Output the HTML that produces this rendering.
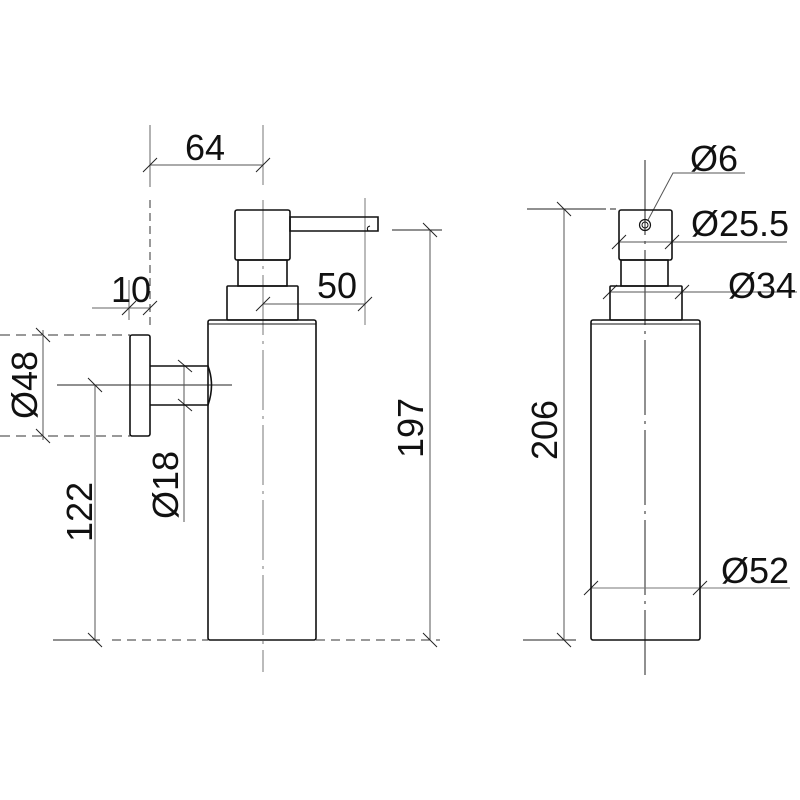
<!DOCTYPE html>
<html><head><meta charset="utf-8"><style>
html,body{margin:0;padding:0;background:#fff;}
svg{display:block;}
text{font-family:"Liberation Sans",sans-serif;font-size:36px;fill:#111;}
</style></head><body>
<svg width="800" height="800" viewBox="0 0 800 800" xmlns="http://www.w3.org/2000/svg">
<g fill="none" stroke-linecap="butt">
<!-- ===== LEFT VIEW ===== -->
<!-- centerlines -->
<line x1="263" y1="125" x2="263" y2="185" stroke="#777" stroke-width="1"/>
<line x1="263" y1="200" x2="263" y2="672" stroke="#777" stroke-width="1" stroke-dasharray="60,6,3,6"/>
<line x1="57" y1="385" x2="232" y2="385" stroke="#222" stroke-width="1"/>
<!-- extension / dim lines -->
<line x1="150" y1="125" x2="150" y2="187" stroke="#666" stroke-width="1"/>
<line x1="150" y1="200" x2="150" y2="330" stroke="#333" stroke-width="1" stroke-dasharray="8,5"/>
<line x1="150" y1="165" x2="263" y2="165" stroke="#555" stroke-width="1"/>
<line x1="143" y1="172" x2="157" y2="158" stroke="#222"/>
<line x1="256" y1="172" x2="270" y2="158" stroke="#222"/>
<!-- 10 -->
<line x1="129" y1="280" x2="129" y2="320" stroke="#666"/>
<line x1="92" y1="308" x2="150" y2="308" stroke="#666"/>
<line x1="122" y1="315" x2="136" y2="301" stroke="#222"/>
<line x1="143" y1="315" x2="157" y2="301" stroke="#222"/>
<!-- 50 -->
<line x1="365" y1="198" x2="365" y2="325" stroke="#777"/>
<line x1="263" y1="304" x2="365" y2="304" stroke="#555"/>
<line x1="256" y1="311" x2="270" y2="297" stroke="#222"/>
<line x1="358" y1="311" x2="372" y2="297" stroke="#222"/>
<!-- Ø48 -->
<line x1="0" y1="335" x2="130" y2="335" stroke="#333" stroke-dasharray="10,6"/>
<line x1="0" y1="436" x2="130" y2="436" stroke="#333" stroke-dasharray="10,6"/>
<line x1="43" y1="330" x2="43" y2="440" stroke="#555"/>
<line x1="36" y1="328" x2="50" y2="342" stroke="#222"/>
<line x1="36" y1="429" x2="50" y2="443" stroke="#222"/>
<!-- 122 -->
<line x1="95" y1="385" x2="95" y2="640" stroke="#555"/>
<line x1="88" y1="378" x2="102" y2="392" stroke="#222"/>
<line x1="88" y1="633" x2="102" y2="647" stroke="#222"/>
<line x1="53" y1="640" x2="100" y2="640" stroke="#222"/>
<line x1="112" y1="640" x2="208" y2="640" stroke="#333" stroke-dasharray="9,6"/>
<line x1="316" y1="640" x2="440" y2="640" stroke="#333" stroke-dasharray="9,6"/>
<!-- Ø18 -->
<line x1="184" y1="366" x2="184" y2="522" stroke="#555"/>
<line x1="178" y1="360" x2="192" y2="372" stroke="#222"/>
<line x1="178" y1="399" x2="192" y2="411" stroke="#222"/>
<!-- 197 -->
<line x1="392" y1="230" x2="442" y2="230" stroke="#222"/>
<line x1="430" y1="230" x2="430" y2="640" stroke="#555"/>
<line x1="423" y1="223" x2="437" y2="237" stroke="#222"/>
<line x1="423" y1="633" x2="437" y2="647" stroke="#222"/>
<!-- parts -->
<g stroke="#111" stroke-width="1.6">
<rect x="130" y="335" width="20" height="101" rx="2"/>
<path d="M150 366 H208 Q215 385 208 405 H150"/>
<rect x="208" y="320" width="108" height="320" rx="2"/>
<line x1="208" y1="324" x2="316" y2="324" stroke-width="1"/>
<rect x="227" y="286" width="71" height="34" rx="1"/>
<rect x="238" y="260" width="49" height="26"/>
<rect x="235" y="210" width="55" height="50" rx="2"/>
<path d="M290 217 H378 V231 H290 Z"/>
<path d="M368 231 Q366 227 370 226" stroke-width="1"/>
</g>
<!-- ===== RIGHT VIEW ===== -->
<line x1="645" y1="160" x2="645" y2="675" stroke="#222" stroke-width="1" stroke-dasharray="75,6,3,6"/>
<line x1="527" y1="209" x2="600" y2="209" stroke="#222"/>
<line x1="600" y1="209" x2="619" y2="209" stroke="#222" stroke-dasharray="6,4"/>
<line x1="523" y1="640" x2="576" y2="640" stroke="#222"/>
<line x1="564" y1="209" x2="564" y2="640" stroke="#555"/>
<line x1="557" y1="202" x2="571" y2="216" stroke="#222"/>
<line x1="557" y1="633" x2="571" y2="647" stroke="#222"/>
<!-- Ø6 leader -->
<polyline points="648,220 673,173 745,173" stroke="#555"/>
<!-- Ø25.5 -->
<line x1="619" y1="242" x2="787" y2="242" stroke="#555"/>
<line x1="612" y1="249" x2="626" y2="235" stroke="#222"/>
<line x1="665" y1="249" x2="679" y2="235" stroke="#222"/>
<!-- Ø34 -->
<line x1="610" y1="292" x2="797" y2="292" stroke="#555"/>
<line x1="603" y1="299" x2="617" y2="285" stroke="#222"/>
<line x1="675" y1="299" x2="689" y2="285" stroke="#222"/>
<!-- Ø52 -->
<line x1="591" y1="588" x2="790" y2="588" stroke="#777"/>
<line x1="584" y1="595" x2="598" y2="581" stroke="#222"/>
<line x1="693" y1="595" x2="707" y2="581" stroke="#222"/>
<g stroke="#111" stroke-width="1.6">
<rect x="591" y="320" width="109" height="320" rx="2"/>
<line x1="591" y1="324" x2="700" y2="324" stroke-width="1"/>
<rect x="610" y="286" width="72" height="34" rx="1"/>
<rect x="621" y="260" width="47" height="26"/>
<rect x="619" y="210" width="53" height="50" rx="2"/>
<circle cx="645" cy="225" r="5.5" stroke-width="1.2"/>
<circle cx="645" cy="225" r="3" stroke-width="1"/>
</g>
</g>
<!-- texts -->
<text x="205" y="160" text-anchor="middle">64</text>
<text x="131" y="302" text-anchor="middle">10</text>
<text x="337" y="298" text-anchor="middle">50</text>
<text transform="translate(37,385) rotate(-90)" text-anchor="middle">Ø48</text>
<text transform="translate(92,512) rotate(-90)" text-anchor="middle">122</text>
<text transform="translate(178,485) rotate(-90)" text-anchor="middle">Ø18</text>
<text transform="translate(423,428) rotate(-90)" text-anchor="middle">197</text>
<text transform="translate(557,430) rotate(-90)" text-anchor="middle">206</text>
<text x="714" y="171" text-anchor="middle">Ø6</text>
<text x="740" y="236" text-anchor="middle">Ø25.5</text>
<text x="762" y="298" text-anchor="middle">Ø34</text>
<text x="755" y="583" text-anchor="middle">Ø52</text>
</svg>
</body></html>
